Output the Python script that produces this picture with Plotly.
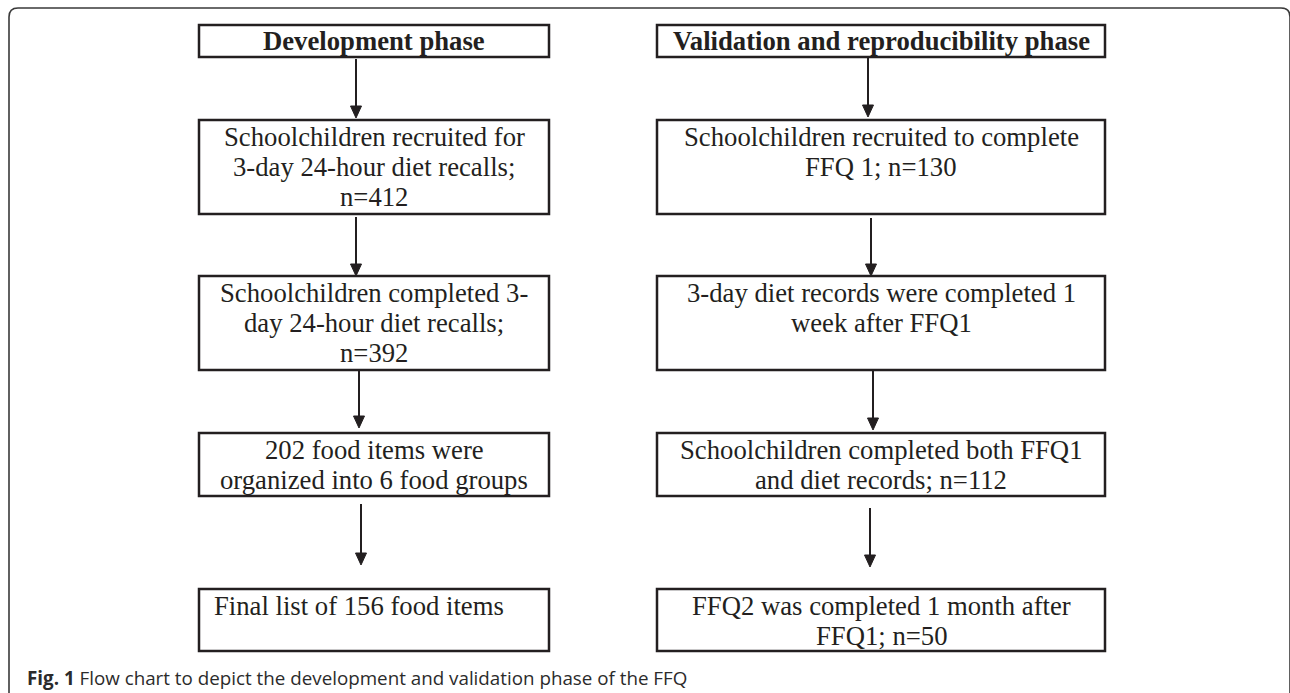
import plotly.graph_objects as go

# ---------------- data (texts) ----------------
left_header = "Development phase"
right_header = "Validation and reproducibility phase"
left_steps = [
    ["Schoolchildren recruited for", "3-day 24-hour diet recalls;", "n=412"],
    ["Schoolchildren completed 3-", "day 24-hour diet recalls;", "n=392"],
    ["202 food items were", "organized into 6 food groups"],
    ["Final list of 156 food items"],
]
right_steps = [
    ["Schoolchildren recruited to complete", "FFQ 1; n=130"],
    ["3-day diet records were completed 1", "week after FFQ1"],
    ["Schoolchildren completed both FFQ1", "and diet records; n=112"],
    ["FFQ2 was completed 1 month after", "FFQ1; n=50"],
]
left_align = ["center", "center", "center", "left"]
right_align = ["center", "center", "center", "center"]
caption_label = "Fig. 1"
caption_text = "Flow chart to depict the development and validation phase of the FFQ"

# ---------------- layout geometry (pixels) ----------------
W, H = 1290, 693
cols = {"left": (199, 549), "right": (657, 1105)}
header_row = (25, 57)
rows = [(120, 214), (276, 370), (433, 496), (589, 651)]
first_line_offset = 16.5
line_step = 30
left_arrows_x = [356, 356, 359, 361]
left_arrows_y = [(59, 118), (217, 276), (371, 428), (504, 565)]
right_arrows_x = [868, 871, 873, 870]
right_arrows_y = [(57, 117), (218, 276), (371, 430), (508, 567)]

INK = "#231f20"
SERIF = "Liberation Serif, Times New Roman, serif"
FS = 26.7

fig = go.Figure()
shapes = []
annotations = []

def add_box(x0, x1, y0, y1):
    shapes.append(dict(type="rect", xref="x", yref="y", x0=x0, x1=x1, y0=y0, y1=y1,
                       line=dict(color=INK, width=2.5), fillcolor="rgba(0,0,0,0)", layer="above"))

def add_arrow(x, y0, y1):
    head_len, head_w = 12, 5.5
    shapes.append(dict(type="line", xref="x", yref="y", x0=x, x1=x, y0=y0, y1=y1 - head_len + 1,
                       line=dict(color=INK, width=2), layer="above"))
    shapes.append(dict(type="path", xref="x", yref="y",
                       path=f"M {x - head_w},{y1 - head_len} L {x + head_w},{y1 - head_len} L {x},{y1} Z",
                       fillcolor=INK, line=dict(color=INK, width=1), layer="above"))

def add_lines(lines, x0, x1, top, align, bold=False):
    for i, t in enumerate(lines):
        y = top + first_line_offset + i * line_step
        if align == "left":
            xx, xa = x0 + 13, "left"
        else:
            xx, xa = (x0 + x1) / 2, "center"
        annotations.append(dict(x=xx, y=y, xref="x", yref="y", text=f"<b>{t}</b>" if bold else t,
                                showarrow=False, xanchor=xa, yanchor="middle",
                                font=dict(family=SERIF, size=FS, color=INK)))

# headers
for key, head in (("left", left_header), ("right", right_header)):
    x0, x1 = cols[key]
    add_box(x0, x1, *header_row)
    annotations.append(dict(x=(x0 + x1) / 2, y=(header_row[0] + header_row[1]) / 2, xref="x", yref="y",
                            text=f"<b>{head}</b>", showarrow=False, xanchor="center", yanchor="middle",
                            font=dict(family=SERIF, size=FS, color=INK)))

for key, steps, aligns in (("left", left_steps, left_align), ("right", right_steps, right_align)):
    x0, x1 = cols[key]
    for (y0, y1), lines, al in zip(rows, steps, aligns):
        add_box(x0, x1, y0, y1)
        add_lines(lines, x0, x1, y0, al)

for xs, ys in ((left_arrows_x, left_arrows_y), (right_arrows_x, right_arrows_y)):
    for x, (y0, y1) in zip(xs, ys):
        add_arrow(x, y0, y1)

# outer rounded frame (cut off at right and bottom)
r = 9
shapes.append(dict(type="path", xref="x", yref="y",
                   path=f"M 9,720 L 9,{8 + r} Q 9,8 {9 + r},8 L {1290 - r},8 Q 1290,8 1290,{8 + r} L 1290,720",
                   line=dict(color="#3a3a3a", width=1.6), layer="above"))

# caption
annotations.append(dict(x=25, y=678, xref="x", yref="y",
                        text=f"<b>{caption_label}</b> {caption_text}",
                        showarrow=False, xanchor="left", yanchor="middle",
                        font=dict(family="Open Sans, Noto Sans, sans-serif", size=18.8, color="#2b2b2b")))

fig.update_layout(
    width=W, height=H, autosize=False,
    margin=dict(l=0, r=0, t=0, b=0),
    paper_bgcolor="white", plot_bgcolor="white",
    xaxis=dict(range=[0, W], visible=False, fixedrange=True),
    yaxis=dict(range=[H, 0], visible=False, fixedrange=True),
    shapes=shapes, annotations=annotations, showlegend=False,
)

fig.write_html("out.html", config={"displayModeBar": False},
               post_script="document.body.style.margin='0';document.body.style.overflow='hidden';")
